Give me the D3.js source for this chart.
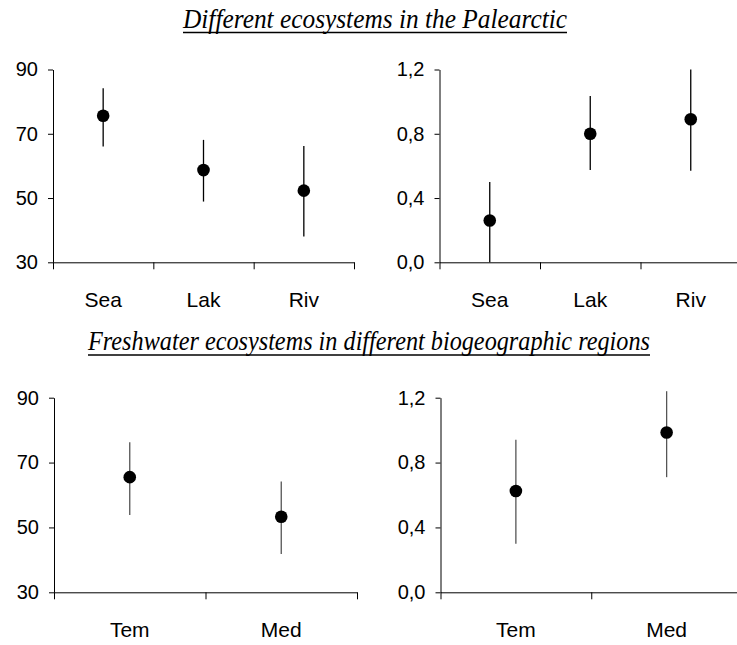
<!DOCTYPE html>
<html>
<head>
<meta charset="utf-8">
<style>
  body { margin: 0; background: #fff; }
</style>
</head>
<body>
<svg width="737" height="645"></svg>
<script src="https://d3js.org/d3.v7.min.js"></script>
<script>

// data
const ecoCats = ["Sea", "Lak", "Riv"];
const ecoLeftMean = [75.6, 58.7, 52.3];
const ecoLeftLow  = [66.0, 48.9, 38.0];
const ecoLeftHigh = [84.2, 68.1, 66.2];
const ecoRightMean = [0.26, 0.80, 0.89];
const ecoRightLow  = [0.00, 0.575, 0.57];
const ecoRightHigh = [0.50, 1.035, 1.20];

const regCats = ["Tem", "Med"];
const regLeftMean = [65.5, 53.3];
const regLeftLow  = [53.8, 41.8];
const regLeftHigh = [76.3, 64.2];
const regRightMean = [0.625, 0.985];
const regRightLow  = [0.30, 0.71];
const regRightHigh = [0.94, 1.24];

const leftTicks = [30, 50, 70, 90];
const rightTicks = [0, 0.4, 0.8, 1.2];

const titles = ["Different ecosystems in the Palearctic",
                "Freshwater ecosystems in different biogeographic regions"];

const svg = d3.select("svg");

// title with underline
function title(txt, x0, y, w) {
  svg.append("text")
    .attr("x", x0).attr("y", y)
    .attr("font-family", "'Liberation Serif', 'DejaVu Serif', serif")
    .attr("font-style", "italic")
    .attr("font-size", 28)
    .attr("textLength", w)
    .attr("lengthAdjust", "spacingAndGlyphs")
    .text(txt);
  svg.append("line")
    .attr("x1", x0).attr("x2", x0 + w)
    .attr("y1", y + 5).attr("y2", y + 5)
    .attr("stroke", "#000").attr("stroke-width", 1.5);
}
title(titles[0], 183, 27.5, 384);
title(titles[1], 88, 350, 562);

// one panel
function panel(opt) {
  const g = svg.append("g");
  const x = d3.scaleBand().domain(opt.cats).range([opt.x0, opt.x1]);
  const y = d3.scaleLinear().domain(opt.domain).range([opt.y1, opt.y0]);
  const n = opt.cats.length;
  const xi = d3.scaleLinear().domain([0, n]).range([opt.x0, opt.x1]);

  // x axis: ticks at band edges, labels at centres
  g.append("g")
    .attr("transform", `translate(0,${opt.y1})`)
    .call(d3.axisBottom(xi).tickValues(d3.range(n + 1)).tickSize(7).tickSizeOuter(0).tickFormat(""))
    .call(a => a.selectAll("line,path").attr("stroke", "#000"));

  g.selectAll(".xl").data(opt.cats).enter().append("text")
    .attr("x", d => x(d) + x.bandwidth() / 2)
    .attr("y", opt.y1 + 44.4)
    .attr("text-anchor", "middle")
    .attr("font-family", "'Liberation Sans', Arial, sans-serif")
    .attr("font-size", 21)
    .text(d => d);

  // y axis
  g.append("g")
    .attr("transform", `translate(${opt.x0},0)`)
    .call(d3.axisLeft(y).tickValues(opt.ticks).tickSize(5).tickSizeOuter(0).tickPadding(10)
      .tickFormat(opt.fmt))
    .call(a => a.selectAll("line,path").attr("stroke", "#000"))
    .call(a => a.selectAll("text")
      .attr("font-family", "'Liberation Sans', Arial, sans-serif")
      .attr("font-size", 20)
      .attr("fill", "#000"));

  const rows = opt.cats.map((c, i) => ({c, m: opt.mean[i], lo: opt.low[i], hi: opt.high[i]}));

  g.selectAll(".eb").data(rows).enter().append("line")
    .attr("x1", d => x(d.c) + x.bandwidth() / 2)
    .attr("x2", d => x(d.c) + x.bandwidth() / 2)
    .attr("y1", d => y(d.lo))
    .attr("y2", d => y(d.hi))
    .attr("stroke", opt.barColor)
    .attr("stroke-width", 1.3);

  g.selectAll(".pt").data(rows).enter().append("circle")
    .attr("cx", d => x(d.c) + x.bandwidth() / 2)
    .attr("cy", d => y(d.m))
    .attr("r", 6.3)
    .attr("fill", "#000");
}

const fmtInt = d3.format("d");
const fmtDec = d => d3.format(".1f")(d).replace(".", ",");

panel({cats: ecoCats, mean: ecoLeftMean, low: ecoLeftLow, high: ecoLeftHigh,
  domain: [30, 90], ticks: leftTicks, fmt: fmtInt,
  x0: 53, x1: 354, y0: 69.5, y1: 262.3, barColor: "#000"});
panel({cats: ecoCats, mean: ecoRightMean, low: ecoRightLow, high: ecoRightHigh,
  domain: [0, 1.2], ticks: rightTicks, fmt: fmtDec,
  x0: 439.5, x1: 741, y0: 69.5, y1: 262.3, barColor: "#000"});
panel({cats: regCats, mean: regLeftMean, low: regLeftLow, high: regLeftHigh,
  domain: [30, 90], ticks: leftTicks, fmt: fmtInt,
  x0: 54, x1: 357, y0: 397.7, y1: 592.3, barColor: "#555"});
panel({cats: regCats, mean: regRightMean, low: regRightLow, high: regRightHigh,
  domain: [0, 1.2], ticks: rightTicks, fmt: fmtDec,
  x0: 440.5, x1: 742, y0: 397.7, y1: 592.3, barColor: "#555"});

</script>
</body>
</html>
